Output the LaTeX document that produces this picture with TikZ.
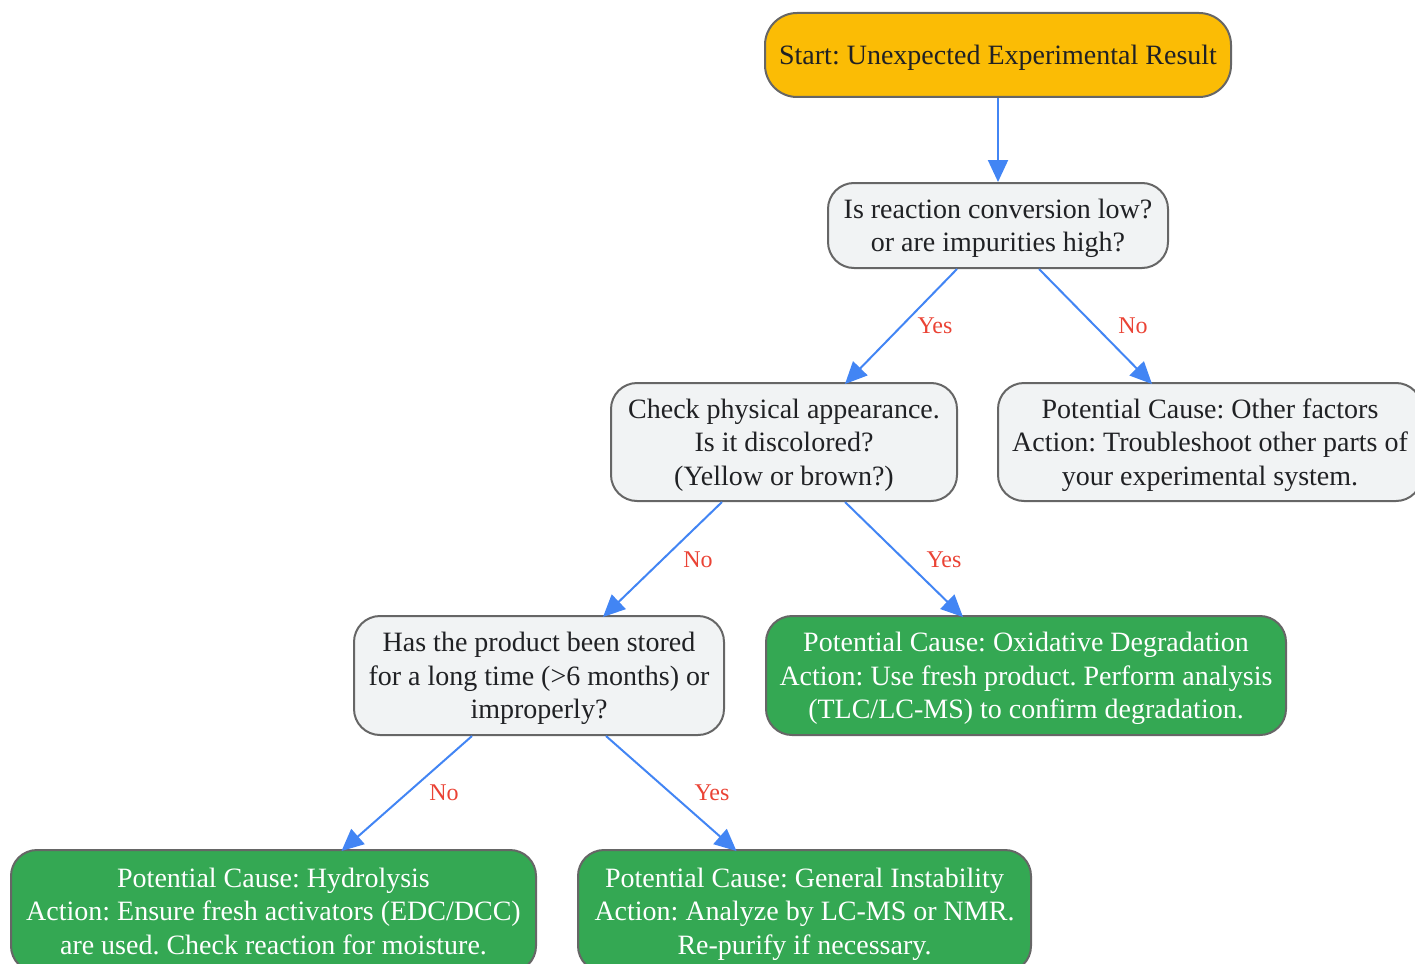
\documentclass[tikz,border=0pt]{standalone}
\usepackage{fontspec}
\setmainfont{Liberation Serif}
\usetikzlibrary{arrows.meta}
\frenchspacing
\definecolor{startfill}{HTML}{FBBC05}
\definecolor{qfill}{HTML}{F1F3F4}
\definecolor{gfill}{HTML}{34A853}
\definecolor{bordc}{HTML}{666666}
\definecolor{arrc}{HTML}{4285F4}
\definecolor{labc}{HTML}{EA4335}
\definecolor{txtc}{HTML}{202124}
\newcommand\ntext[1]{\raisebox{-3pt}[\height][\depth]{\begin{tabular}{@{}c@{}}#1\end{tabular}}}
\tikzset{
  box/.style={draw=bordc, line width=2pt, rounded corners=26pt, inner sep=0pt,
    font=\fontsize{28}{33.5}\selectfont, text=txtc},
  startbox/.style={box, fill=startfill},
  qbox/.style={box, fill=qfill},
  gbox/.style={box, fill=gfill, text=white},
  arr/.style={draw=arrc, line width=2pt, -{Triangle[length=22pt,width=20pt]}},
  lab/.style={text=labc, font=\fontsize{24}{28}\selectfont, inner sep=0pt}
}
\begin{document}
\begin{tikzpicture}[x=1pt,y=-1pt]
\useasboundingbox (0,0) rectangle (1415,963);
\node[startbox, minimum width=466pt, minimum height=84pt, rounded corners=32pt] (start) at (998,55) {\ntext{Start: Unexpected Experimental Result}};
\node[qbox, minimum width=340pt, minimum height=85pt] (q1) at (998,225.5) {\ntext{Is reaction conversion low?\\or are impurities high?}};
\node[qbox, minimum width=346pt, minimum height=118pt] (q2) at (784,442) {\ntext{Check physical appearance.\\Is it discolored?\\(Yellow or brown?)}};
\node[qbox, minimum width=424pt, minimum height=118pt] (other) at (1210,442) {\ntext{Potential Cause: Other factors\\Action: Troubleshoot other parts of\\your experimental system.}};
\node[gbox, minimum width=520pt, minimum height=119pt] (oxid) at (1026,675.5) {\ntext{Potential Cause: Oxidative Degradation\\Action: Use fresh product. Perform analysis\\(TLC/LC-MS) to confirm degradation.}};
\node[qbox, minimum width=370pt, minimum height=119pt] (q3) at (539,675.5) {\ntext{Has the product been stored\\for a long time (>6 months) or\\improperly?}};
\node[gbox, minimum width=525pt, minimum height=122pt] (hydro) at (273.5,911) {\ntext{Potential Cause: Hydrolysis\\Action: Ensure fresh activators (EDC/DCC)\\are used. Check reaction for moisture.}};
\node[gbox, minimum width=453pt, minimum height=122pt] (gen) at (804.5,911) {\ntext{Potential Cause: General Instability\\Action: Analyze by LC-MS or NMR.\\Re-purify if necessary.}};

\draw[arr] (start.south) -- (q1.north);
\draw[arr] ([xshift=-41pt]q1.south) -- ([xshift=61pt,yshift=-2pt]q2.north);
\draw[arr] ([xshift=41pt]q1.south) -- ([xshift=-58pt,yshift=-2pt]other.north);
\draw[arr] ([xshift=-62pt]q2.south) -- ([xshift=64pt,yshift=-2pt]q3.north);
\draw[arr] ([xshift=61pt]q2.south) -- ([xshift=-63pt,yshift=-2pt]oxid.north);
\draw[arr] ([xshift=-67pt]q3.south) -- ([xshift=68pt,yshift=-2pt]hydro.north);
\draw[arr] ([xshift=67pt]q3.south) -- ([xshift=-68pt,yshift=-2pt]gen.north);

\node[lab] (l1) at (935,326) {Yes};
\node[lab] (l2) at (1133,326) {No};
\node[lab] (l3) at (698,560) {No};
\node[lab] (l4) at (944,560) {Yes};
\node[lab] (l5) at (444,793) {No};
\node[lab] (l6) at (712,793) {Yes};
\end{tikzpicture}
\end{document}
